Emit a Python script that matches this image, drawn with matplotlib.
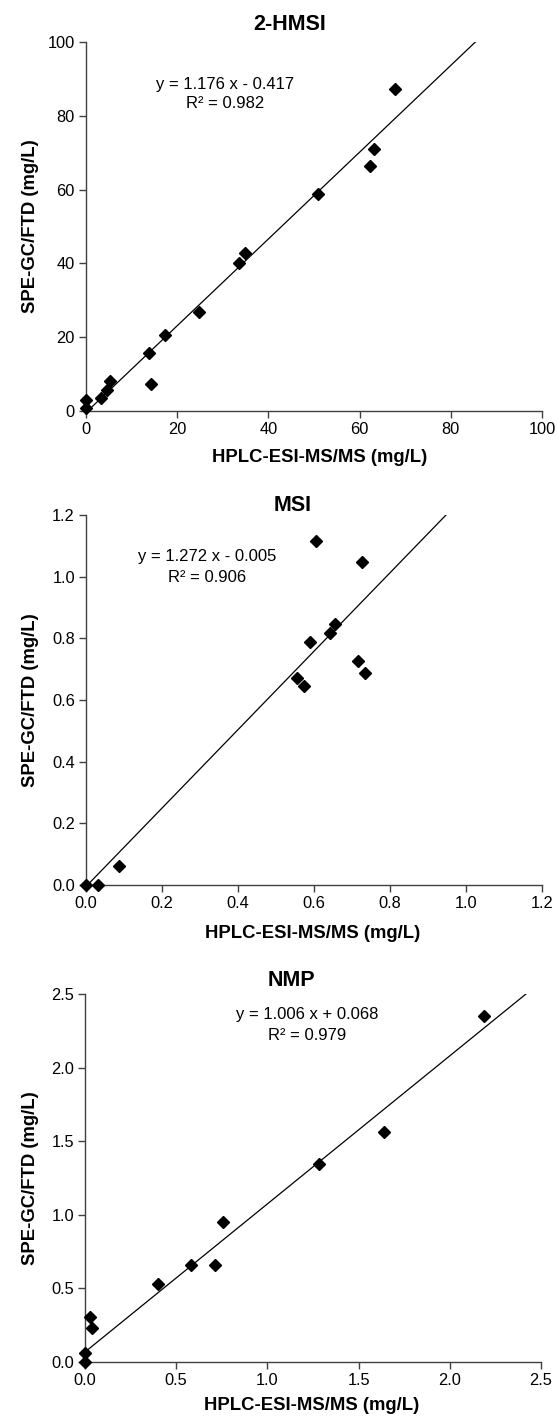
import matplotlib
matplotlib.use("Agg")
import matplotlib.pyplot as plt
import numpy as np

plt.rcParams['font.family'] = ['Liberation Sans', 'DejaVu Sans']

# ---- data ----
hmsi_x = [0.0, 0.0, 3.3, 4.5, 5.2, 13.9, 14.2, 17.4, 24.7, 33.6, 34.8, 50.8, 62.3, 63.1, 67.7]
hmsi_y = [0.9, 2.9, 3.6, 5.6, 8.1, 15.6, 7.4, 20.5, 26.9, 40.0, 42.7, 58.7, 66.5, 70.9, 87.2]
hmsi_fit = (1.176, -0.417, 0.982)

msi_x = [0.0, 0.031, 0.086, 0.556, 0.573, 0.589, 0.605, 0.642, 0.656, 0.717, 0.727, 0.733]
msi_y = [0.0, 0.0, 0.062, 0.671, 0.647, 0.789, 1.117, 0.818, 0.848, 0.728, 1.048, 0.688]
msi_fit = (1.272, -0.005, 0.906)

nmp_x = [0.0, 0.0, 0.029, 0.039, 0.40, 0.583, 0.714, 0.757, 1.283, 1.638, 2.188]
nmp_y = [0.0, 0.061, 0.303, 0.230, 0.531, 0.659, 0.659, 0.949, 1.348, 1.565, 2.353]
nmp_fit = (1.006, 0.068, 0.979)

titles = ["2-HMSI", "MSI", "NMP"]
x_label = "HPLC-ESI-MS/MS (mg/L)"
y_label = "SPE-GC/FTD (mg/L)"
ticks = [np.arange(0, 101, 20), np.arange(0, 1.21, 0.2), np.arange(0, 2.51, 0.5)]
tick_fmt = ["{:.0f}", "{:.1f}", "{:.1f}"]

W, H = 558, 1420
fig = plt.figure(figsize=(W / 100, H / 100), dpi=100)

# pixel layout: (left, top, right, bottom)
boxes = [(86, 42, 542, 411), (86, 515, 542, 885), (85, 994, 541, 1362)]
title_pos = [(290, 25), (293, 505), (291, 980)]
xlabel_pos = [(320, 458), (313, 933), (312, 1406)]
eq_pos = [(225, 84, 104), (207, 557, 577), (307, 1015, 1036)]
ylabel_x = 31

datasets = [(hmsi_x, hmsi_y, hmsi_fit), (msi_x, msi_y, msi_fit), (nmp_x, nmp_y, nmp_fit)]
axcol = '#404040'

for i, (xs, ys, fit) in enumerate(datasets):
    l, t, r, b = boxes[i]
    ax = fig.add_axes([l / W, 1 - b / H, (r - l) / W, (b - t) / H])
    lim = ticks[i][-1]
    ax.set_xlim(0, lim)
    ax.set_ylim(0, lim)
    ax.set_xticks(ticks[i])
    ax.set_yticks(ticks[i])
    ax.set_xticklabels([tick_fmt[i].format(v) for v in ticks[i]])
    ax.set_yticklabels([tick_fmt[i].format(v) for v in ticks[i]])
    for s in ['top', 'right']:
        ax.spines[s].set_visible(False)
    for s in ['left', 'bottom']:
        ax.spines[s].set_color(axcol)
        ax.spines[s].set_linewidth(1.0)
    ax.tick_params(direction='out', length=5, width=1.0, color=axcol,
                   labelsize=11.8, pad=3, labelcolor='black')

    slope, icpt, r2 = fit
    x0 = max(0.0, (0 - icpt) / slope)
    x1 = (lim - icpt) / slope
    ax.plot([x0, x1], [slope * x0 + icpt, slope * x1 + icpt], color='black', lw=0.9)
    ax.plot(xs, ys, linestyle='none', marker='D', color='black', markersize=6.5,
            clip_on=False, zorder=5)

    sign = '-' if icpt < 0 else '+'
    ex, ey1, ey2 = eq_pos[i]
    fig.text(ex / W, 1 - ey1 / H, f"y = {slope:.3f} x {sign} {abs(icpt):.3f}",
             ha='center', va='center', fontsize=12)
    fig.text(ex / W, 1 - ey2 / H, f"R² = {r2:.3f}",
             ha='center', va='center', fontsize=12)

    tx, ty = title_pos[i]
    fig.text(tx / W, 1 - ty / H, titles[i], ha='center', va='center',
             fontsize=15.5, fontweight='bold')
    lx, ly = xlabel_pos[i]
    fig.text(lx / W, 1 - ly / H, x_label, ha='center', va='center',
             fontsize=13.3, fontweight='bold')
    fig.text(ylabel_x / W, 1 - ((t + b) / 2) / H, y_label, ha='center', va='center',
             rotation=90, fontsize=13.3, fontweight='bold')

fig.savefig("out.png", dpi=100, facecolor='white')
